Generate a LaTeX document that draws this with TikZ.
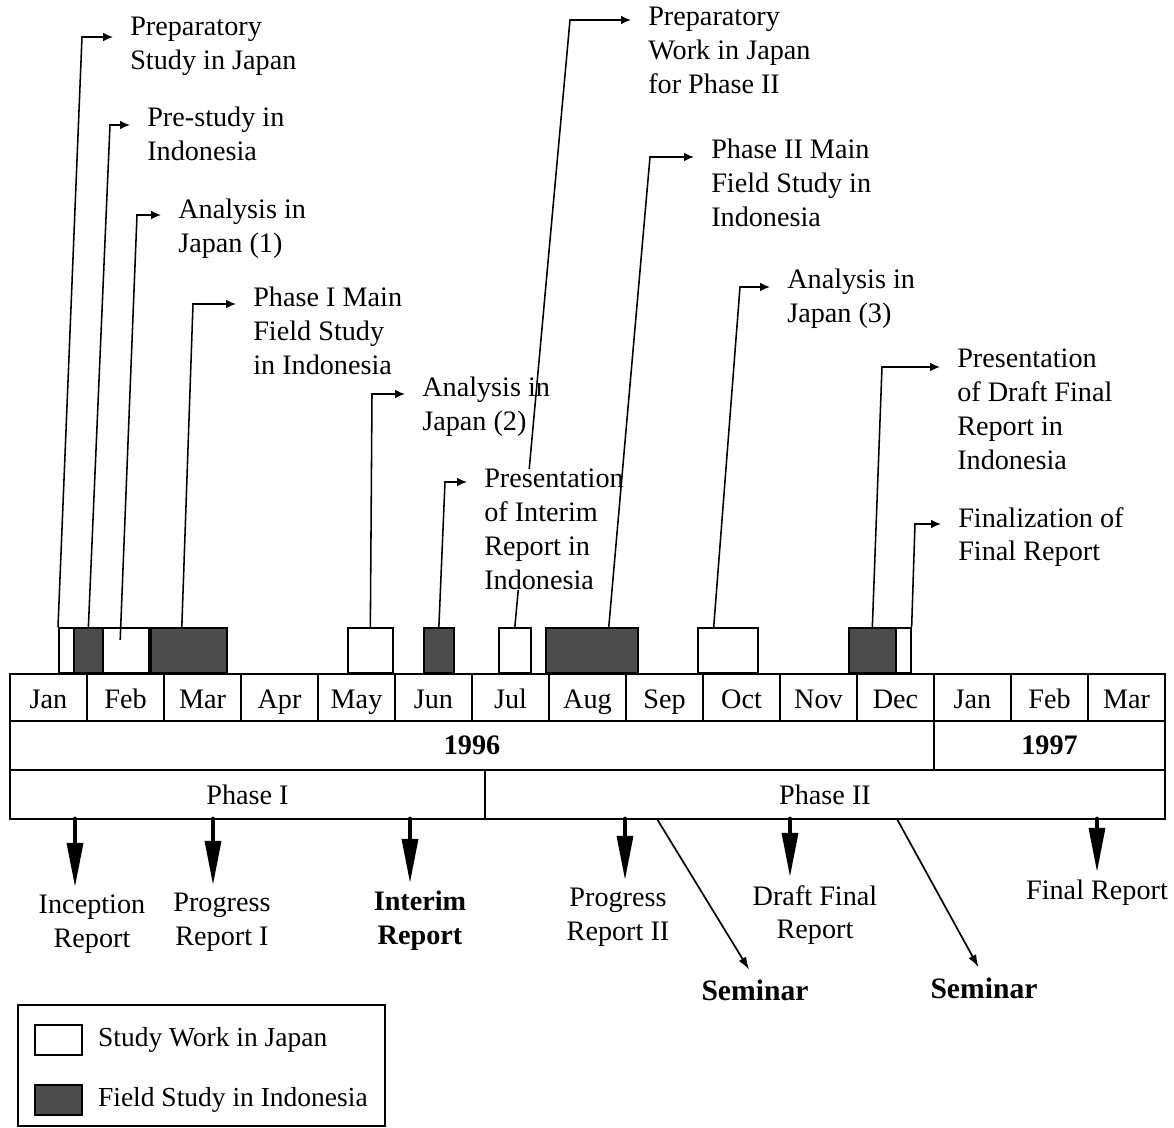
\documentclass[tikz,border=0pt]{standalone}
\usepackage{fontspec}
\setmainfont{Liberation Serif}
\usetikzlibrary{arrows.meta,positioning}

\newcommand{\basefont}{\fontsize{20}{24}\selectfont}

\tikzset{
  jpbar/.style={draw, line width=1.2pt, fill=white, anchor=south west,
    minimum height=32pt, inner sep=0pt},
  idbar/.style={jpbar, fill=black!70},
  cell/.style={draw, line width=1.2pt, inner sep=0pt, minimum height=34.7pt,
    font=\basefont},
  month/.style={cell, minimum width=54.6pt, minimum height=33.3pt,
    text height=16pt, text depth=0pt},
  note/.style={anchor=north west, align=left, inner sep=0pt, font=\basefont},
  callout/.style={line width=1.1pt, -{Latex[length=7pt,width=6pt]}, shorten >=12pt},
  replabel/.style={anchor=north, align=center, inner sep=0pt, font=\basefont},
  report/.style={line width=3.5pt, line cap=round,
    -{Triangle[length=32pt,width=11pt]}, shorten >=5pt},
  semarrow/.style={line width=1.2pt, -{Latex[length=9pt,width=6pt]}, shorten >=8pt}
}

\begin{document}
\begin{tikzpicture}[x=0.709pt, y=-0.709pt]
    \useasboundingbox (0,0) rectangle (1174,1128);

    % Month row
    \foreach \m [count=\i] in {Jan,Feb,Mar,Apr,May,Jun,Jul,Aug,Sep,Oct,Nov,Dec,Jan,Feb,Mar} {
        \node[month] (m\i) at ({10+77*(\i-0.5)},697.5) {\m};
    }

    % Years and phases
    \node[cell, minimum width=655.1pt, font=\basefont\bfseries] (y96) at (472,745.5) {1996};
    \node[cell, minimum width=163.8pt, font=\basefont\bfseries] (y97) at (1049.5,745.5) {1997};
    \node[cell, minimum width=336.8pt] (ph1) at (247.5,794.5) {Phase I};
    \node[cell, minimum width=482.1pt] (ph2) at (825,794.5) {Phase II};

    % Work periods: study work in Japan
    \foreach \n/\x/\w in {1/58/10.6, 2/102/32.6, 3/347/31.9, 4/498/22.7, 5/697/42.5, 6/895/10.6} {
        \node[jpbar, minimum width=\w pt] (pj\n) at (\x,674) {};
    }
    % Work periods: field study in Indonesia
    \foreach \n/\x/\w in {1/73/20.6, 2/150/53.9, 3/423/21.3, 4/545/65.2, 5/848/33.3} {
        \node[idbar, minimum width=\w pt] (pi\n) at (\x,674) {};
    }

    % Callouts to the work periods
    \node[note] (t1) at (130,17) {Preparatory\\Study in Japan};
    \coordinate (c1) at (82,37);
    \draw[callout] (pj1.north west) -- (c1) -- (c1 -| t1.west);

    \node[note] (t2) at (147,107) {Pre-study in\\Indonesia};
    \coordinate (c2) at (110,125);
    \draw[callout] (pi1.north) -- (c2) -- (c2 -| t2.west);

    \node[note] (t3) at (178,199) {Analysis in\\Japan (1)};
    \coordinate (c3) at (137,215);
    \draw[callout] ([xshift=-4pt,yshift=-9pt]pj2.north) -- (c3) -- (c3 -| t3.west);

    \node[note] (t4) at (253,287) {Phase I Main\\Field Study\\in Indonesia};
    \coordinate (c4) at (193,304);
    \draw[callout] ([xshift=-5pt]pi2.north) -- (c4) -- (c4 -| t4.west);

    \node[note] (t5) at (422,377) {Analysis in\\Japan (2)};
    \coordinate (c5) at (372,394);
    \draw[callout] (pj3.north) -- (c5) -- (c5 -| t5.west);

    \node[note] (t7) at (648,7) {Preparatory\\Work in Japan\\for Phase II};
    \coordinate (c7) at (570,20);
    \draw[callout] (pj4.north) -- (c7) -- (c7 -| t7.west);

    \node[note, fill=white] (t6) at (484,469) {Presentation\\of Interim\\Report in\\Indonesia};
    \coordinate (c6) at (445,482);
    \draw[callout] (pi3.north) -- (c6) -- (c6 -| t6.west);

    \node[note] (t8) at (711,139) {Phase II Main\\Field Study in\\Indonesia};
    \coordinate (c8) at (650,157);
    \draw[callout] ([xshift=12pt]pi4.north) -- (c8) -- (c8 -| t8.west);

    \node[note] (t9) at (787,269) {Analysis in\\Japan (3)};
    \coordinate (c9) at (740,287);
    \draw[callout] ([xshift=-10pt]pj5.north) -- (c9) -- (c9 -| t9.west);

    \node[note] (t10) at (957,349) {Presentation\\of Draft Final\\Report in\\Indonesia};
    \coordinate (c10) at (882,367);
    \draw[callout] (pi5.north) -- (c10) -- (c10 -| t10.west);

    \node[note] (t11) at (958,507) {Finalization of\\Final Report};
    \coordinate (c11) at (915,524);
    \draw[callout] (pj6.north east) -- (c11) -- (c11 -| t11.west);

    % Reports
    \node[replabel] (rep1) at (92,895) {Inception\\Report};
    \node[replabel] (rep2) at (222,893) {Progress\\Report I};
    \node[replabel, font=\basefont\bfseries] (rep3) at (420,891) {Interim\\Report};
    \node[replabel] (rep4) at (618,888) {Progress\\Report II};
    \node[replabel] (rep5) at (815,885) {Draft Final\\Report};
    \node[replabel] (rep6) at (1097,880) {Final Report};

    \foreach \n/\x in {1/75, 2/213, 3/410, 4/625, 5/790, 6/1097} {
        \coordinate (r\n) at (\x,819);
        \draw[report] (r\n) -- (r\n |- rep\n.north);
    }

    % Seminars
    \node[inner sep=0pt, font=\fontsize{21}{25}\selectfont\bfseries] (sem1) at (755,990) {Seminar};
    \node[inner sep=0pt, font=\fontsize{21}{25}\selectfont\bfseries] (sem2) at (984,988) {Seminar};
    \coordinate (s1) at (657,819);
    \coordinate (s2) at (897,819);
    \draw[semarrow] (s1) -- (sem1.north);
    \draw[semarrow] (s2) -- (sem2.north);

    % Legend
    \draw[line width=1.2pt] (18,1005) rectangle (385,1126);
    \node[jpbar, anchor=center, minimum width=33.3pt, minimum height=21.3pt] (kj) at (58.5,1040) {};
    \node[right=10.6pt of kj, inner sep=0pt, font=\fontsize{19.5}{24}\selectfont] (kjt) {Study Work in Japan};
    \node[idbar, anchor=center, minimum width=33.3pt, minimum height=21.3pt] (ki) at (58.5,1100) {};
    \node[right=10.6pt of ki, inner sep=0pt, font=\fontsize{19.5}{24}\selectfont] (kit) {Field Study in Indonesia};
\end{tikzpicture}
\end{document}
